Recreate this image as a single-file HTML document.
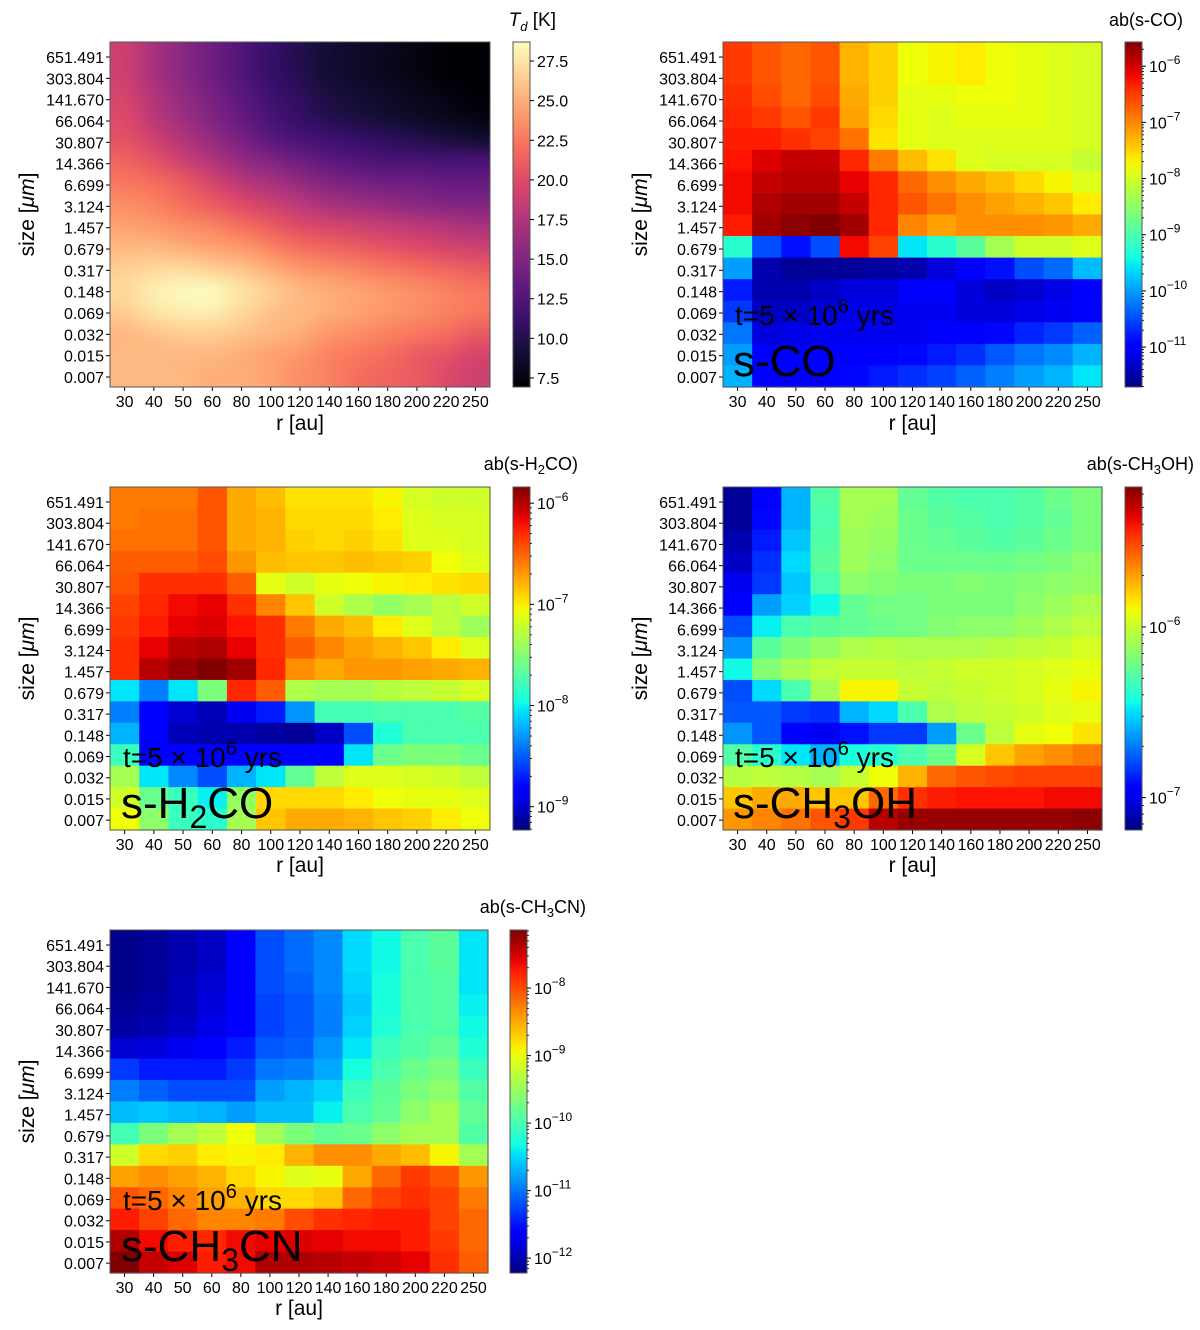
<!DOCTYPE html>
<html><head><meta charset="utf-8"><style>
html,body{margin:0;padding:0;background:#fff;}
svg{display:block;font-family:"Liberation Sans",sans-serif;}
</style></head><body>
<svg id="fig" width="1200" height="1330" xmlns="http://www.w3.org/2000/svg"></svg>
<script>
const radii = ["30","40","50","60","80","100","120","140","160","180","200","220","250"];
const sizes = ["651.491","303.804","141.670","66.064","30.807","14.366","6.699","3.124","1.457","0.679","0.317","0.148","0.069","0.032","0.015","0.007"];
const sizeLabels = ["651.491","303.804","141.670","66.064","30.807","14.366","6.699","3.124","1.457","0.679","0.317","0.148","0.069","0.032","0.015","0.007"];
const tempGrid = [
[19,17,15.5,14,12.5,11,10,9,8.5,8,7.5,7,7],
[19,17,15.5,14,12.5,11,10,9,8.5,8,7.5,7,7],
[19.5,17.5,16,14.5,13,11.5,10.5,9.5,9,8.5,8,7.5,7],
[20,18,16.5,15,13.5,12,11,10,9.5,9,8.5,8,7.5],
[20.5,19,17.5,16,14.5,13,12,11.5,11,10.5,10,9.5,9],
[21.5,20.5,19,17.5,16,15,14,13,12.5,12,12,12,12],
[22.5,22,21,19.5,18,17,16,15,14.5,14,14,13.5,13.5],
[23.5,23,22,21,20,19,18,17,16.5,16,15.5,15,15],
[24.5,24,23.5,23,22,21,20,19.5,19,18.5,18,17.5,17],
[25.5,25.5,25,24.5,24,23,22,21.5,21,20.5,20,19.5,19],
[26.5,27,27,26.5,26,25,24,23.5,23,22.5,22,21.5,21],
[27,28,28.5,28.5,27.5,26.5,25.5,25,24.5,24,23.5,23,22.5],
[26.5,27.5,28,28,27,26,25.5,25,24.5,24,23.5,23,22.5],
[25.5,26,26.5,26.5,26,25.5,25,24,23.5,23,22.5,22,21],
[25.5,25.5,25.5,25.5,25,24.5,24,23,22.5,22,21,20.5,19.5],
[25.5,25.5,25.5,25,25,24.5,23.5,23,22,21.5,21,20,19]];
const tempTicks = [7.5,10.0,12.5,15.0,17.5,20.0,22.5,25.0,27.5];
const coLevel = [
[85,82,80,82,72,69,64,65,66,64,63,62,61],
[85,82,80,82,72,69,64,65,66,64,63,62,61],
[86,83,80,83,73,69,63,63,64,64,63,62,61],
[87,85,82,85,74,68,63,62,63,63,63,62,61],
[88,88,86,84,79,67,63,62,62,62,62,62,61],
[89,92,94,94,87,78,71,67,62,61,61,61,59],
[90,94,95,95,91,87,80,76,73,71,68,65,62],
[90,96,97,97,94,87,82,79,76,74,72,70,66],
[88,97,99,100,97,87,77,74,76,76,76,75,73],
[40,20,14,20,90,84,35,40,46,55,60,60,62],
[28,4,2,2,2,3,4,8,11,14,20,23,31],
[15,4,4,6,8,8,11,11,8,6,7,9,11],
[18,6,6,8,9,9,10,10,8,8,9,10,11],
[24,8,9,10,10,10,10,11,11,13,16,18,22],
[28,11,11,11,11,11,13,15,17,21,24,26,30],
[30,11,12,12,13,15,17,19,22,25,28,30,35]];
const h2coLevel = [
[78,78,78,82,73,71,67,67,67,65,61,60,60],
[78,79,79,82,73,72,68,68,68,66,62,61,61],
[79,79,79,82,73,72,69,68,69,67,62,62,61],
[81,81,81,83,75,71,70,70,71,70,69,64,62],
[82,86,86,86,81,63,60,63,64,65,66,67,68],
[84,87,90,91,86,77,70,60,56,53,55,58,60],
[85,88,91,92,89,86,78,73,71,66,62,58,54],
[86,91,95,96,91,86,81,77,74,72,70,66,62],
[86,95,98,100,97,87,76,73,75,75,74,73,72],
[35,25,35,50,87,81,56,55,55,57,58,59,61],
[25,11,7,5,10,15,27,43,43,44,44,44,45],
[30,11,5,4,4,3,2,6,20,39,44,44,44],
[42,11,11,11,11,11,11,11,35,48,50,50,48],
[55,35,26,20,30,35,47,58,62,62,61,60,58],
[60,48,42,36,53,68,68,68,66,64,63,63,62],
[64,52,42,40,55,70,73,73,72,70,69,66,64]];
const ch3ohLevel = [
[2,11,30,45,55,55,47,45,44,44,45,48,50],
[2,13,30,44,55,54,48,46,45,44,45,47,50],
[4,15,32,45,54,53,48,47,46,45,46,48,50],
[6,17,34,46,54,52,48,48,48,48,49,50,52],
[10,18,32,44,52,51,50,50,51,50,51,52,53],
[12,28,33,37,47,49,49,50,50,50,52,54,56],
[20,36,44,46,47,48,49,51,52,52,54,56,58],
[27,46,50,53,56,57,56,56,56,57,58,59,61],
[37,51,55,58,59,59,58,59,60,60,61,62,63],
[20,34,44,55,65,65,59,58,59,60,61,63,65],
[21,21,18,17,30,34,44,56,58,59,60,62,63],
[27,21,12,10,14,18,18,28,48,58,63,64,67],
[45,40,35,30,38,40,44,48,61,70,74,76,78],
[57,58,57,55,59,64,72,80,82,83,84,84,84],
[70,73,73,70,70,80,86,88,89,89,89,90,90],
[75,77,79,82,85,95,98,98,98,98,98,98,99]];
const ch3cnLevel = [
[1,2,4,6,11,20,23,26,34,37,44,46,35],
[1,2,4,6,11,20,23,26,34,37,44,46,35],
[1,2,5,7,12,20,22,26,33,38,44,45,35],
[2,3,5,8,11,19,21,25,32,38,44,45,36],
[3,4,6,9,12,19,21,25,33,39,44,45,37],
[7,8,10,11,15,21,22,27,35,42,45,47,39],
[18,15,15,15,18,24,25,29,38,44,48,50,42],
[25,22,20,20,20,28,30,33,42,46,50,52,45],
[31,32,31,30,28,31,31,36,44,47,52,55,47],
[43,50,55,58,64,55,50,47,48,52,55,55,45],
[60,68,69,66,65,66,72,76,76,73,71,65,55],
[74,76,74,72,68,65,62,63,73,80,85,82,75],
[82,80,77,74,72,68,68,70,80,84,86,84,78],
[88,84,80,77,77,78,83,86,87,88,88,84,80],
[96,90,88,87,90,91,92,91,90,90,88,85,80],
[100,94,92,88,90,96,96,95,94,93,91,86,81]];
const coDecades = [-6,-7,-8,-9,-10,-11];
const h2coDecades = [-6,-7,-8,-9];
const ch3ohDecades = [-6,-7];
const ch3cnDecades = [-8,-9,-10,-11,-12];

const NS="http://www.w3.org/2000/svg";
const svg=document.getElementById('fig');
function mk(tag,attrs,parent){const e=document.createElementNS(NS,tag);for(const k in attrs)e.setAttribute(k,attrs[k]);(parent||svg).appendChild(e);return e;}
const cl=v=>Math.max(0,Math.min(1,v));
function seg(pts,t){for(let i=0;i<pts.length-1;i++){if(t<=pts[i+1][0]){const f=(t-pts[i][0])/(pts[i+1][0]-pts[i][0]);return pts[i][1]+(pts[i+1][1]-pts[i][1])*f;}}return pts[pts.length-1][1];}
const JR=[[0,0],[0.35,0],[0.66,1],[0.89,1],[1,0.5]];
const JG=[[0,0],[0.125,0],[0.375,1],[0.64,1],[0.91,0],[1,0]];
const JB=[[0,0.5],[0.11,1],[0.34,1],[0.65,0],[1,0]];
function jet(t){t=cl(t);return `rgb(${Math.round(seg(JR,t)*255)},${Math.round(seg(JG,t)*255)},${Math.round(seg(JB,t)*255)})`;}
const MAG=[[0,0,4],[20,14,54],[59,15,112],[100,26,128],[140,41,129],[183,55,121],[222,73,104],[247,112,92],[254,159,109],[254,207,146],[252,253,191]];
function magmaRGB(t){t=cl(t)*10;const i=Math.min(9,Math.floor(t)),f=t-i;return MAG[i].map((c,k)=>Math.round(c+(MAG[i+1][k]-c)*f));}
function magma(t){const c=magmaRGB(t);return `rgb(${c[0]},${c[1]},${c[2]})`;}

function axes(px,py,pw,ph,xlabelY){
  const g=mk('g',{});
  const cw=pw/radii.length;
  radii.forEach((r,i)=>{
    const x=px+cw*(i+0.5);
    const t=mk('line',{x1:x,x2:x,y1:py+ph,y2:py+ph+4,stroke:'#000','stroke-width':1},g);
    
    const tx=mk('text',{x:x,y:py+ph+20,'font-size':16,'text-anchor':'middle'},g);tx.textContent=r;
    
  });
  const ys=320/15;
  sizeLabels.forEach((s,j)=>{
    const y=py+15+j*ys*(ph/345);
    mk('line',{x1:px-4,x2:px,y1:y,y2:y,stroke:'#000','stroke-width':1},g);
    const tx=mk('text',{x:px-6,y:y+6,'font-size':16,'text-anchor':'end'},g);tx.textContent=s;
    
  });
  const xl=mk('text',{x:px+pw/2,y:xlabelY,'font-size':21,'text-anchor':'middle'},g);xl.textContent='r [au]';
  
  const yl=mk('text',{x:0,y:0,'font-size':21,'text-anchor':'middle',transform:`translate(${px-76},${py+ph/2}) rotate(-90)`},g);
  yl.innerHTML='size [<tspan font-style="italic">μm</tspan>]';
  
  mk('rect',{x:px,y:py,width:pw,height:ph,fill:'none',stroke:'#555','stroke-width':1},g);
}
function heat(px,py,pw,ph,grid,name){
  const g=mk('g',{});
  const cw=pw/radii.length,chh=ph/sizes.length;
  grid.forEach((row,j)=>row.forEach((v,i)=>{
    const r=mk('rect',{x:px+i*cw,y:py+j*chh,width:cw+0.6,height:chh+0.6,fill:jet(v/100)},g);
    
  }));
}
function logbar(cx,cy,cw,ch,name){
  const g=mk('g',{});
  const grad=mk('linearGradient',{id:name+'-g',x1:0,y1:1,x2:0,y2:0},g);
  for(let k=0;k<=40;k++){mk('stop',{offset:k/40,'stop-color':jet(k/40)},grad);}
  mk('rect',{x:cx,y:cy,width:cw,height:ch,fill:`url(#${name}-g)`,stroke:'#555','stroke-width':1},g);
  return g;
}
function addDecadeTicks(g,cx,cy,cw,ch,lo,hi,decades){
  const yOf=v=>cy+ch-(v-lo)/(hi-lo)*ch;
  for(let d=Math.floor(lo);d<=Math.ceil(hi);d++){
    for(let m=2;m<10;m++){const v=d+Math.log10(m);if(v>lo&&v<hi){const y=yOf(v);mk('line',{x1:cx+cw,x2:cx+cw+2,y1:y,y2:y,stroke:'#000','stroke-width':0.8},g);}}
  }
  decades.forEach(d=>{
    const y=yOf(d);
    mk('line',{x1:cx+cw,x2:cx+cw+4,y1:y,y2:y,stroke:'#000','stroke-width':1},g);
    const t=mk('text',{x:cx+cw+7,y:y+6,'font-size':16},g);
    t.innerHTML=`10<tspan dy="-8" font-size="12">−${-d}</tspan>`;
    
  });
}
function title(x,y,html,name){const t=mk('text',{x:x,y:y,'font-size':18,'text-anchor':'end'});t.innerHTML=html;}
function annot(x,y,species,name){
  const a=mk('text',{x:x,y:y,'font-size':28});a.innerHTML='t=5 × 10<tspan dy="-12" font-size="20">6</tspan><tspan dy="12"> yrs</tspan>';
  
  const s=mk('text',{x:x-2,y:y+51,'font-size':44});s.innerHTML=species;
  
}

(function(){
  const px=110,py=42,pw=380,ph=345,tmin=6.93,tmax=28.7;
  const fo=mk('foreignObject',{x:px,y:py,width:pw,height:ph});
  
  const c=document.createElement('canvas');c.width=pw;c.height=ph;c.style.display='block';fo.appendChild(c);
  const s=document.createElement('canvas');s.width=radii.length;s.height=sizes.length;
  const sx=s.getContext('2d');const img=sx.createImageData(s.width,s.height);
  tempGrid.forEach((row,j)=>row.forEach((v,i)=>{const col=magmaRGB((v-tmin)/(tmax-tmin));const o=(j*s.width+i)*4;img.data[o]=col[0];img.data[o+1]=col[1];img.data[o+2]=col[2];img.data[o+3]=255;}));
  sx.putImageData(img,0,0);
  const cx=c.getContext('2d');cx.imageSmoothingEnabled=true;cx.imageSmoothingQuality='high';cx.drawImage(s,0,0,pw,ph);
  axes(px,py,pw,ph,430);
  const g=mk('g',{});
  const grad=mk('linearGradient',{id:'mg',x1:0,y1:1,x2:0,y2:0},g);
  for(let k=0;k<=20;k++)mk('stop',{offset:k/20,'stop-color':magma(k/20)},grad);
  const bx=513,by=42,bw=17,bh=345;
  mk('rect',{x:bx,y:by,width:bw,height:bh,fill:'url(#mg)',stroke:'#555','stroke-width':1},g);
  tempTicks.forEach(v=>{const y=by+bh-(v-tmin)/(tmax-tmin)*bh;mk('line',{x1:bx+bw,x2:bx+bw+4,y1:y,y2:y,stroke:'#000'},g);const t=mk('text',{x:bx+bw+7,y:y+6,'font-size':16},g);t.textContent=v.toFixed(1);});
  const tt=mk('text',{x:556,y:26,'font-size':19,'text-anchor':'end'});tt.innerHTML='<tspan font-style="italic">T</tspan><tspan font-style="italic" font-size="13" dy="5">d</tspan><tspan dy="-5"> [K]</tspan>';
  
})();

heat(723,42,379,345,coLevel,'co-heatmap');axes(723,42,379,345,430);
addDecadeTicks(logbar(1125,42,17,345,'co-colorbar'),1125,42,17,345,-11.71,-5.57,coDecades);
title(1183,26,'ab(s-CO)','co-colorbar-title');
annot(735,325,'s-CO','species-label');

heat(110,487,380,343,h2coLevel,'h2co-heatmap');axes(110,487,380,343,872);
addDecadeTicks(logbar(513,487,17,343,'h2co-colorbar'),513,487,17,343,-9.23,-5.84,h2coDecades);
title(578,470,'ab(s-H<tspan font-size="13" dy="4">2</tspan><tspan dy="-4">CO)</tspan>','h2co-colorbar-title');
annot(123,767,'s-H<tspan font-size="32" dy="10">2</tspan><tspan dy="-10">CO</tspan>','species-label');

heat(723,487,379,343,ch3ohLevel,'ch3oh-heatmap');axes(723,487,379,343,872);
addDecadeTicks(logbar(1125,487,17,343,'ch3oh-colorbar'),1125,487,17,343,-7.19,-5.18,ch3ohDecades);
title(1194,470,'ab(s-CH<tspan font-size="13" dy="4">3</tspan><tspan dy="-4">OH)</tspan>','ch3oh-colorbar-title');
annot(735,767,'s-CH<tspan font-size="32" dy="10">3</tspan><tspan dy="-10">OH</tspan>','species-label');

heat(110,930,378,343,ch3cnLevel,'ch3cn-heatmap');axes(110,930,378,343,1315);
addDecadeTicks(logbar(510,930,17,343,'ch3cn-colorbar'),510,930,17,343,-12.22,-7.14,ch3cnDecades);
title(586,913,'ab(s-CH<tspan font-size="13" dy="4">3</tspan><tspan dy="-4">CN)</tspan>','ch3cn-colorbar-title');
annot(123,1210,'s-CH<tspan font-size="32" dy="10">3</tspan><tspan dy="-10">CN</tspan>','species-label');
</script>
</body></html>
